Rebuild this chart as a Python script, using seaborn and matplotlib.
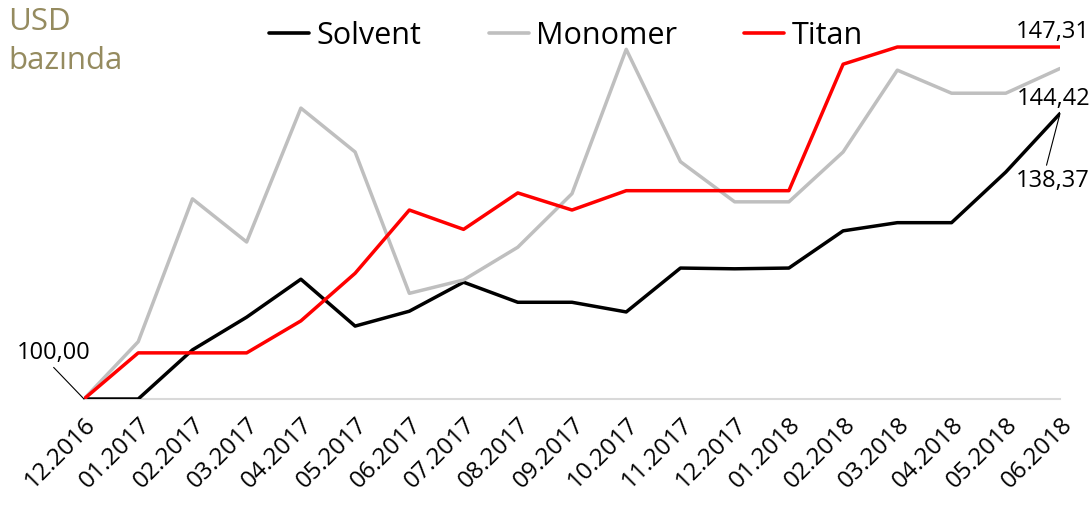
import pandas as pd
import seaborn as sns
import matplotlib.pyplot as plt

# months on the x axis
months = ['12.2016', '01.2017', '02.2017', '03.2017', '04.2017', '05.2017', '06.2017',
          '07.2017', '08.2017', '09.2017', '10.2017', '11.2017', '12.2017', '01.2018',
          '02.2018', '03.2018', '04.2018', '05.2018', '06.2018']

# index values (USD based, 12.2016 = 100)
solvent = [100.0, 100.0, 106.6, 111.0, 116.1, 109.8, 111.8, 115.7, 113.0, 113.0,
           111.7, 117.6, 117.5, 117.6, 122.6, 123.7, 123.7, 130.5, 138.37]
monomer = [100.0, 107.7, 126.9, 121.1, 139.1, 133.2, 114.2, 116.0, 120.4, 127.6,
           147.0, 131.9, 126.5, 126.5, 133.2, 144.2, 141.1, 141.1, 144.42]
titan = [100.0, 106.2, 106.2, 106.2, 110.5, 116.9, 125.4, 122.8, 127.7, 125.4,
         128.0, 128.0, 128.0, 128.0, 145.0, 147.31, 147.31, 147.31, 147.31]

series = ['Solvent', 'Monomer', 'Titan']
colors = ['#000000', '#bfbfbf', '#ff0000']

df = pd.concat([
    pd.DataFrame({'idx': range(len(months)), 'value': vals, 'series': name})
    for name, vals in zip(series, [solvent, monomer, titan])
])

sns.set_style('white')
plt.rcParams['font.family'] = ['Open Sans', 'DejaVu Sans']
plt.rcParams['text.color'] = 'black'

fig = plt.figure(figsize=(10.89, 5.10), dpi=100)
ax = fig.add_axes([84 / 1089, 1 - 400 / 510, (1060 - 84) / 1089, 380 / 510])

sns.lineplot(data=df, x='idx', y='value', hue='series', hue_order=series,
             palette=colors, linewidth=2.5, sort=False, ax=ax, legend=False)

ax.set_xlim(0, len(months) - 1)
ax.set_ylim(100, 100 + 380 / 7.44)
ax.set_xticks(range(len(months)))
ax.set_xticklabels(months, rotation=45, ha='right', rotation_mode='anchor',
                   fontsize=17.5, color='black')
ax.tick_params(axis='x', length=0, pad=9)
ax.set_yticks([])
ax.set_xlabel('')
ax.set_ylabel('')
for side in ['top', 'right', 'left']:
    ax.spines[side].set_visible(False)
ax.spines['bottom'].set_color('#d9d9d9')
ax.spines['bottom'].set_linewidth(1.5)
ax.spines['bottom'].set_zorder(0)

# legend
handles = [plt.Line2D([], [], color=c, linewidth=2.6) for c in colors]
fig.legend(handles, series, loc='upper center', bbox_to_anchor=(0.52, 1.012), ncol=3,
           frameon=False, fontsize=22, handlelength=1.3, handletextpad=0.25,
           columnspacing=2.2, labelcolor='black')

# title at top left
fig.text(8 / 1089, 1 - 7 / 510, 'USD\nbazında', color='#958b5f', fontsize=22.5,
         va='top', ha='left', linespacing=1.38)

# value labels
last = len(months) - 1
xr = (1090 - 84) / ((1060 - 84) / last)
ax.annotate('100,00', xy=(0, 100), xytext=(-1.23, 106.3), fontsize=17,
            ha='left', va='center', annotation_clip=False,
            arrowprops=dict(arrowstyle='-', color='black', lw=0.8, shrinkA=0, shrinkB=0,
                            relpos=(0.45, 0)))
ax.text(xr, titan[-1] + 2.2, '147,31', fontsize=17, ha='right', va='center', clip_on=False)
ax.text(xr, monomer[-1] - 4.0, '144,42', fontsize=17, ha='right', va='center', clip_on=False)
ax.annotate('138,37', xy=(last, solvent[-1]), xytext=(xr, solvent[-1] - 9.0),
            fontsize=17, ha='right', va='center', annotation_clip=False,
            arrowprops=dict(arrowstyle='-', color='black', lw=0.8, shrinkA=0, shrinkB=0,
                            relpos=(0.4, 1)))

fig.savefig('out.png', dpi=100)
